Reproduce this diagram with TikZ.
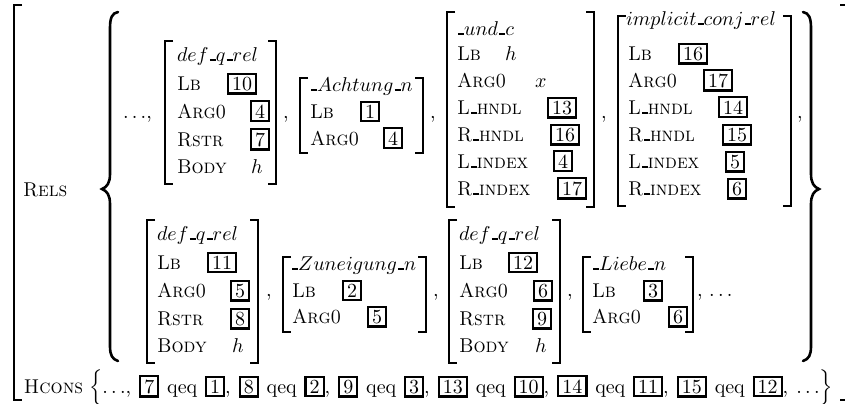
\documentclass[tikz,border=0pt]{standalone}
% short low rule used inside the relation names
\newcommand\us{\kern.06em\vrule width .3em height .85pt depth 0pt\relax}
% boxed tag
\newcommand\tg[1]{{\setlength\fboxsep{1pt}\setlength\fboxrule{1.05pt}\fbox{\kern.5pt#1\kern.5pt}}}
% one attribute line: node name, x, baseline, attribute, offset of the value, value
\newcommand\attr[6]{%
  \node[att] (#1) at (#2,#3) {\textsc{#4}};
  \node[lbl] (#1v) at ({#2+#5},#3) {#6};}
% square brackets round one structure: left x, right x, top y, bottom y
\newcommand\sqbrackets[4]{%
  \draw[brk] ({#1+8},#3) -- (#1,#3) -- (#1,#4) -- ({#1+8},#4);
  \draw[brk] ({#2-8},#3) -- (#2,#3) -- (#2,#4) -- ({#2-8},#4);}
\begin{document}
\begin{tikzpicture}[x=0.5pt,y=-0.5pt,
  lbl/.style={anchor=base west,inner sep=0pt,outer sep=0pt},
  att/.style={lbl,xscale=0.95,transform shape},
  brk/.style={line width=0.75pt},
  bigbrace/.style={line width=1.3pt,line cap=round}]
\useasboundingbox (0,0) rectangle (845,403);
\clip (0,0) rectangle (845,403);

% outer brackets
\draw[brk] (22,5) -- (14,5) -- (14,400) -- (22,400);
\draw[brk] (840,5) -- (849,5) -- (849,400) -- (840,400);

\node[att] (rels) at (23,196) {\textsc{Rels}};
\node[att] (hcons) at (24,393) {\textsc{Hcons}};

% set braces round the relations
\draw[bigbrace] (118,12) .. controls (112,13) and (110,18) .. (110,28)
  -- (110,174) .. controls (110,183) and (107,187) .. (102,189)
  .. controls (107,191) and (110,195) .. (110,204)
  -- (110,346) .. controls (110,355) and (112,359) .. (118,361);
\draw[bigbrace] (803,12) .. controls (809,13) and (811,18) .. (811,28)
  -- (811,174) .. controls (811,183) and (814,187) .. (819,189)
  .. controls (814,191) and (811,195) .. (811,204)
  -- (811,346) .. controls (811,355) and (809,359) .. (803,361);

% first line of relations
\node[lbl] (s0) at (123,118) {$\ldots$,};

\sqbrackets{165}{276}{41}{184}
\node[lbl] (aT) at (177,61) {$def\us q\us rel$};
\attr{aLb}{177}{90}{Lb}{50}{\tg{10}}
\attr{aArg}{177}{118}{Arg0}{73}{\tg{4}}
\attr{aRstr}{177}{146}{Rstr}{73}{\tg{7}}
\attr{aBody}{177}{173}{Body}{74}{$h$}
\node[lbl] (s1) at (283,118) {,};

\sqbrackets{300}{423}{78}{153}
\node[lbl] (bT) at (310,91) {$\us Achtung\us n$};
\attr{bLb}{310}{118}{Lb}{50}{\tg{1}}
\attr{bArg}{310}{145}{Arg0}{73}{\tg{4}}
\node[lbl] (s2) at (430,118) {,};

\sqbrackets{447}{594}{12}{207}
\node[lbl] (cT) at (457,35) {$\us und\us c$};
\attr{cLb}{457}{60}{Lb}{48}{$h$}
\attr{cArg}{457}{87}{Arg0}{78}{$x$}
\attr{cLh}{457}{114}{L\us hndl}{90}{\tg{13}}
\attr{cRh}{457}{141}{R\us hndl}{93}{\tg{16}}
\attr{cLi}{457}{168}{L\us index}{96}{\tg{4}}
\attr{cRi}{457}{195}{R\us index}{100}{\tg{17}}
\node[lbl] (s3) at (601,118) {,};

\sqbrackets{618}{791}{16}{206}
\node[lbl] (dT) at (626,25) {$implicit\us conj\us rel$};
\attr{dLb}{628}{60}{Lb}{50}{\tg{16}}
\attr{dArg}{628}{87}{Arg0}{75}{\tg{17}}
\attr{dLh}{628}{114}{L\us hndl}{90}{\tg{14}}
\attr{dRh}{628}{141}{R\us hndl}{94}{\tg{15}}
\attr{dLi}{628}{168}{L\us index}{97}{\tg{5}}
\attr{dRi}{628}{195}{R\us index}{99}{\tg{6}}
\node[lbl] (s4) at (797,118) {,};

% second line of relations
\sqbrackets{147}{258}{220}{363}
\node[lbl] (eT) at (157,240) {$def\us q\us rel$};
\attr{eLb}{157}{269}{Lb}{50}{\tg{11}}
\attr{eArg}{157}{297}{Arg0}{73}{\tg{5}}
\attr{eRstr}{157}{325}{Rstr}{73}{\tg{8}}
\attr{eBody}{157}{352}{Body}{75}{$h$}
\node[lbl] (s5) at (266,296) {,};

\sqbrackets{283}{426}{257}{332}
\node[lbl] (fT) at (291,270) {$\us Zuneigung\us n$};
\attr{fLb}{292}{297}{Lb}{50}{\tg{2}}
\attr{fArg}{292}{323}{Arg0}{75}{\tg{5}}
\node[lbl] (s6) at (433,296) {,};

\sqbrackets{449}{560}{220}{363}
\node[lbl] (gT) at (459,240) {$def\us q\us rel$};
\attr{gLb}{459}{269}{Lb}{49}{\tg{12}}
\attr{gArg}{459}{297}{Arg0}{74}{\tg{6}}
\attr{gRstr}{459}{325}{Rstr}{73}{\tg{9}}
\attr{gBody}{459}{352}{Body}{76}{$h$}
\node[lbl] (s7) at (567,296) {,};

\sqbrackets{583}{693}{257}{332}
\node[lbl] (hT) at (592,270) {$\us Liebe\us n$};
\attr{hLb}{592}{297}{Lb}{51}{\tg{3}}
\attr{hArg}{592}{323}{Arg0}{76}{\tg{6}}
\node[lbl] (s8) at (697,296) {, $\ldots$};

% handle constraints, spread over the full line
\node[lbl] (hset) at (89,393) {\makebox[372pt][s]{$\Bigl\{\ldots$, \tg{7} qeq \tg{1},
  \tg{8} qeq \tg{2}, \tg{9} qeq \tg{3}, \tg{13} qeq \tg{10},
  \tg{14} qeq \tg{11}, \tg{15} qeq \tg{12}, $\ldots\Bigr\}$}};
\end{tikzpicture}
\end{document}
